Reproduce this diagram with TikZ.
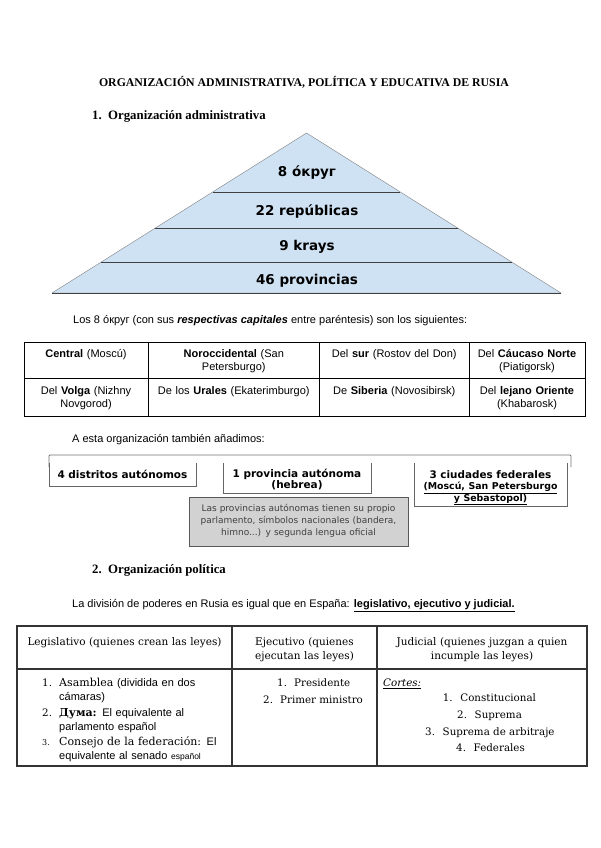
\documentclass[tikz,border=0pt]{standalone}
\usepackage{fontspec}
\setmainfont{Liberation Sans}
\newfontfamily\headfont{Liberation Serif}
\newfontfamily\artfont{DejaVu Sans}
\newfontfamily\slabfont{DejaVu Serif}
\usepackage{xcolor}
\usetikzlibrary{calc}
\definecolor{pyrblue}{RGB}{207,226,243}
\definecolor{notegray}{RGB}{210,210,210}
\newcommand{\setfs}[2]{\fontsize{#1}{#2}\selectfont}
\tikzset{
    txt/.style = {inner sep=0pt, anchor=base west, font=\setfs{11}{13}},
    heading/.style = {inner sep=0pt, anchor=base west, font=\headfont\bfseries\setfs{12.8}{15}},
    level/.style = {inner sep=0pt, anchor=base, font=\artfont\bfseries\setfs{13.5}{16}},
    cell/.style = {inner sep=0pt, anchor=base, align=center, text width=#1, font=\setfs{11}{12.5}},
    cell/.default = 120pt,
    artbox/.style = {inner sep=0pt, anchor=base, align=center, text width=150pt, font=\artfont\bfseries\setfs{10.5}{#1}},
    artbox/.default = 11,
    frame/.style = {draw=black!60, line width=0.8pt},
    notetxt/.style = {inner sep=0pt, anchor=base, align=center, text width=215pt, text=black!75, font=\artfont\setfs{9}{12.2}},
    tabline/.style = {line width=0.9pt},
    tabline2/.style = {line width=1.3pt, black!80},
    headcell/.style = {inner sep=0pt, anchor=base, align=center, text width=#1, font=\slabfont\setfs{10.5}{14}},
    headcell/.default = 140pt,
    itemtxt/.style = {inner sep=0pt, anchor=base west, align=left, text width=165pt, font=\setfs{11}{14}},
    slabitem/.style = {inner sep=0pt, anchor=base west, font=\slabfont\setfs{10.3}{14}},
}

\begin{document}
\begin{tikzpicture}[x=1pt, y=-1pt]
\useasboundingbox (0,0) rectangle (600,848);
\fill[white] (0,0) rectangle (600,848);

% titulo
\node[inner sep=0pt, anchor=base, font=\headfont\bfseries\setfs{11.8}{14}] (title) at (304,87) {ORGANIZACIÓN ADMINISTRATIVA, POLÍTICA Y EDUCATIVA DE RUSIA};

% 1. Organizacion administrativa
\node[heading] (num1) at (92,119.5) {1.};
\node[heading] (sec1) at (108,119.5) {Organización administrativa};

% piramide
\coordinate (top) at (306.5,133);
\coordinate (bl) at (52,293);
\coordinate (br) at (561,293);
\filldraw[fill=pyrblue, draw=black!50, thin] (top) -- (br) -- (bl) -- cycle;
\foreach \y in {192,228,262}
  \draw[black!75, line width=0.8pt] ($(bl)!{(293-\y)/160}!(top)$) -- ($(br)!{(293-\y)/160}!(top)$);
\draw[black!75, line width=0.8pt] (bl) -- (br);
\node[level] (okrug) at (307,176) {8 óкруг};
\node[level] (republicas) at (307,215) {22 repúblicas};
\node[level] (krays) at (307,250) {9 krays};
\node[level] (provincias) at (307,284.5) {46 provincias};

\node[txt] (intro1) at (73,323.5) {Los 8 óкруг (con sus \textbf{\textit{respectivas capitales}} entre paréntesis) son los siguientes:};

% tabla de los okrug
\draw[tabline] (24,342) rectangle (585,416);
\draw[tabline] (24,378) -- (585,378);
\foreach \x in {148,319.5,469}
  \draw[tabline] (\x,342) -- (\x,416);
\node[cell=116pt] (central) at (86,357.5) {\textbf{Central} (Moscú)};
\node[cell=160pt] (noroc) at (233.75,357.5) {\textbf{Noroccidental} (San\\Petersburgo)};
\node[cell=140pt] (sur) at (394.25,357.5) {Del \textbf{sur} (Rostov del Don)};
\node[cell=110pt] (caucaso) at (527,357.5) {Del \textbf{Cáucaso Norte}\\(Piatigorsk)};
\node[cell=116pt] (volga) at (86,394.5) {Del \textbf{Volga} (Nizhny\\Novgorod)};
\node[cell=160pt] (urales) at (233.75,394.5) {De los \textbf{Urales} (Ekaterimburgo)};
\node[cell=140pt] (siberia) at (394.25,394.5) {De \textbf{Siberia} (Novosibirsk)};
\node[cell=110pt] (oriente) at (527,394.5) {Del \textbf{lejano Oriente}\\(Khabarosk)};

\node[txt] (intro2) at (72,442) {A esta organización también añadimos:};

% llave y cajas
\draw[black!55, line width=0.8pt, rounded corners=1pt] (49,467) -- (49,455) -- (571,455) -- (571,467);
\draw[frame] (49,463) -- (49,486) -- (196,486) -- (196,463);
\draw[frame] (223,463) -- (223,493) -- (371,493) -- (371,463);
\draw[frame] (414,463) -- (414,506) -- (567,506) -- (567,463);
\node[artbox] (distritos) at (122.5,478) {4 distritos autónomos};
\node[artbox=10.5] (hebrea) at (297,477.5) {1 provincia autónoma\\(hebrea)};
\node[artbox=11.5] (ciudades) at (490.5,478) {{\setfs{10.4}{11.5}3 ciudades federales}\\\setfs{9.4}{11.5}\underline{(Moscú, San Petersburgo}\\\underline{y Sebastopol)}};
\filldraw[fill=notegray, draw=black!65, line width=0.8pt] (189,497) rectangle (408,546);
\node[notetxt] (note) at (298.5,511.5) {Las provincias autónomas tienen su propio\\parlamento, símbolos nacionales (bandera,\\himno...) y segunda lengua oficial};

% 2. Organizacion politica
\node[heading] (num2) at (92,573.5) {2.};
\node[heading] (sec2) at (108,573.5) {Organización política};

\node[txt] (intro3) at (72,607.5) {La división de poderes en Rusia es igual que en España: \underline{\textbf{legislativo, ejecutivo y judicial.}}};

% tabla de poderes
\draw[tabline2] (17,626) rectangle (587,766);
\draw[tabline2] (17,669) -- (587,669);
\foreach \x in {232,377}
  \draw[tabline2] (\x,626) -- (\x,766);
\node[headcell=205pt] (legis) at (124.5,645) {Legislativo (quienes crean las leyes)};
\node[headcell=135pt] (ejec) at (304.5,645) {Ejecutivo (quienes\\ejecutan las leyes)};
\node[headcell=200pt] (judic) at (482,645) {Judicial (quienes juzgan a quien\\incumple las leyes)};

\node[slabitem] (n1) at (42,686.5) {1.};
\node[itemtxt] (asamblea) at (59,686.5) {{\slabfont Asamblea} (dividida en dos\\cámaras)};
\node[slabitem] (n2) at (42,716.5) {2.};
\node[itemtxt] (duma) at (59,716.5) {{\slabfont\bfseries Дума:} El equivalente al\\parlamento español};
\node[slabitem, font=\slabfont\setfs{8}{10}] (n3) at (42,745.5) {3.};
\node[itemtxt] (consejo) at (59,745.5) {{\slabfont Consejo de la federación:} El\\equivalente al senado {\setfs{8.5}{14}español}};

\node[slabitem] (pres) at (277,686.5) {\makebox[17pt][l]{1.}Presidente};
\node[slabitem] (primer) at (263,703) {\makebox[17pt][l]{2.}Primer ministro};

\node[slabitem, font=\slabfont\itshape\setfs{10.3}{14}] (cortes) at (383,686.5) {\underline{Cortes:}};
\node[slabitem] (constit) at (442.7,701.5) {\makebox[17.5pt][l]{1.}Constitucional};
\node[slabitem] (suprema) at (457,718) {\makebox[17.5pt][l]{2.}Suprema};
\node[slabitem] (arbitraje) at (425,735) {\makebox[17.5pt][l]{3.}Suprema de arbitraje};
\node[slabitem] (federales) at (456,751.5) {\makebox[17.5pt][l]{4.}Federales};
\end{tikzpicture}
\end{document}
